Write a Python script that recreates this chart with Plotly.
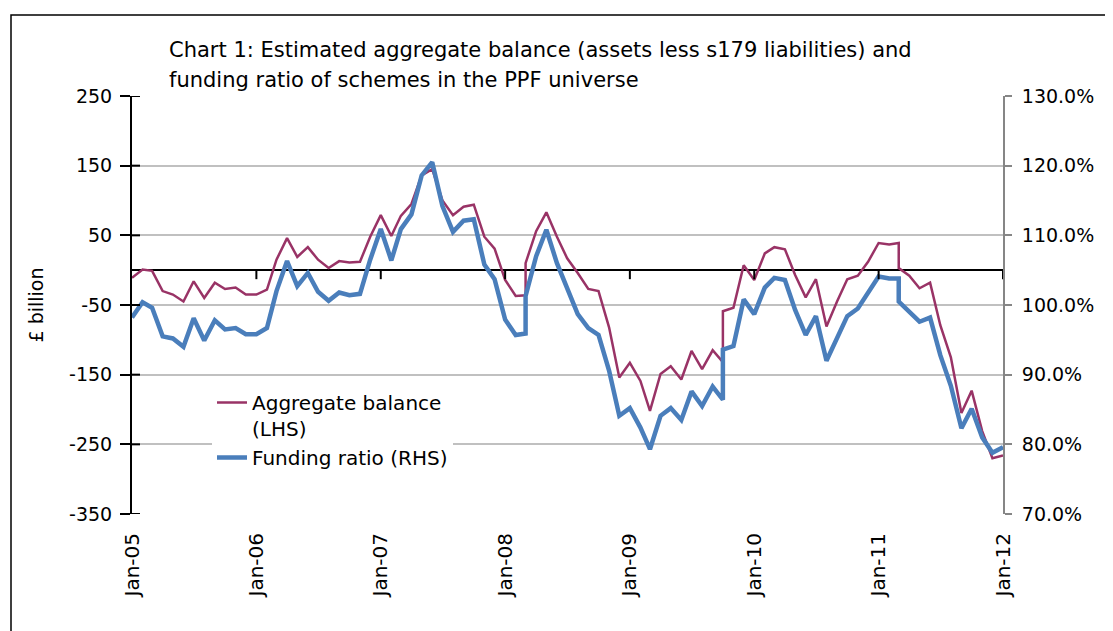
import plotly.graph_objects as go

# ---------------- data ----------------
months = [f"{y}-{m:02d}-01" for y in range(2005, 2012) for m in range(1, 13)] + ["2012-01-01"]

# Aggregate balance, £ billion (LHS) - one value per month Jan-05 .. Jan-12
balance = [
    -11, 1, -1, -30, -35, -45, -16, -40, -18, -27, -25, -35,          # 2005
    -35, -28, 15, 46, 19, 33, 15, 3, 13, 11, 12, 48,                  # 2006
    79, 49, 78, 95, 136, 145, 100, 79, 91, 94, 48, 31,                # 2007
    -14, -37, -36, 56, 83, 48, 17, -4, -27, -30, -82, -154,           # 2008
    -133, -159, -202, -149, -138, -157, -116, -142, -115, -132, -54, 7,  # 2009
    -14, 24, 33, 30, -7, -39, -13, -81, -45, -13, -8, 12,             # 2010
    39, 37, 39, -8, -26, -18, -79, -125, -205, -173, -231, -270,      # 2011
    -266,                                                             # Jan-12
]

# Funding ratio, % (RHS)
funding_ratio = [
    98.2, 100.4, 99.6, 95.5, 95.2, 94.0, 98.1, 94.9, 97.8, 96.5, 96.7, 95.8,
    95.8, 96.7, 102.0, 106.3, 102.7, 104.6, 101.9, 100.6, 101.8, 101.4, 101.6, 106.5,
    110.9, 106.4, 110.9, 113.0, 118.6, 120.5, 114.2, 110.5, 112.1, 112.3, 105.8, 103.7,
    97.9, 95.7, 95.9, 107.0, 110.8, 106.0, 102.3, 98.7, 96.7, 95.7, 90.6, 84.1,
    85.2, 82.4, 79.3, 84.1, 85.2, 83.5, 87.6, 85.5, 88.3, 86.4, 94.1, 100.8,
    98.7, 102.5, 103.9, 103.6, 99.3, 95.7, 98.4, 92.0, 95.4, 98.4, 99.5, 101.7,
    104.1, 103.8, 103.8, 99.0, 97.6, 98.2, 92.8, 88.4, 82.3, 85.1, 81.0, 78.8,
    79.6,
]

# Months where the basis changes (second value at the same date)
basis_change_months = ["2008-03-01", "2009-10-01", "2011-03-01"]
balance_new_basis = [10, -59, 3]
ratio_new_basis = [101.3, 93.6, 100.5]

year_ticks = [f"{y}-01-01" for y in range(2005, 2013)]
year_labels = ["Jan-05", "Jan-06", "Jan-07", "Jan-08", "Jan-09", "Jan-10", "Jan-11", "Jan-12"]

left_ticks = [-350, -250, -150, -50, 50, 150, 250]
right_ticks = [70, 80, 90, 100, 110, 120, 130]

title_lines = [
    "Chart 1: Estimated aggregate balance (assets less s179 liabilities) and",
    "funding ratio of schemes in the PPF universe",
]

# ---------------- build series with basis breaks ----------------
x, yb, yr = [], [], []
for m, b, r in zip(months, balance, funding_ratio):
    x.append(m); yb.append(b); yr.append(r)
    if m in basis_change_months:
        i = basis_change_months.index(m)
        x.append(m); yb.append(balance_new_basis[i]); yr.append(ratio_new_basis[i])

FONT = "DejaVu Sans"
PURPLE = "#993366"
BLUE = "#4A7EBB"

# plot area on screen (page has an 8px body margin)
PL, PR, PT, PB = 132, 1003, 96, 514
PW, PH = PR - PL, PB - PT

def px(xpix):
    return (xpix - PL) / PW

def py(ypix):
    return (PB - ypix) / PH

fig = go.Figure()
fig.add_trace(go.Scatter(x=x, y=yb, mode="lines", name="Aggregate balance<br>(LHS)",
                         line=dict(color=PURPLE, width=2.5), yaxis="y"))
fig.add_trace(go.Scatter(x=x, y=yr, mode="lines", name="Funding ratio (RHS)",
                         line=dict(color=BLUE, width=4.5), yaxis="y2"))

shapes = []
# year tick marks on the zero line (category axis crosses at 0)
for t in year_ticks[1:]:
    shapes.append(dict(type="line", xref="x", yref="y", x0=t, x1=t,
                       ysizemode="pixel", yanchor=0, y0=0, y1=-9,
                       line=dict(color="black", width=2)))
# inner half of the crossing ticks on the left value axis
for v in left_ticks:
    shapes.append(dict(type="line", xref="paper", yref="y", y0=v, y1=v,
                       xsizemode="pixel", xanchor=0, x0=0, x1=8,
                       line=dict(color="black", width=2)))
# outer chart border
shapes.append(dict(type="rect", xref="paper", yref="paper",
                   x0=px(11), x1=px(1130), y0=py(650), y1=py(15),
                   line=dict(color="black", width=1.5), fillcolor="rgba(0,0,0,0)", layer="below"))

annotations = [
    dict(text=title_lines[0], xref="paper", yref="paper", x=px(167), y=py(50),
         xanchor="left", yanchor="middle", showarrow=False, font=dict(family=FONT, size=21, color="black")),
    dict(text=title_lines[1], xref="paper", yref="paper", x=px(167), y=py(80),
         xanchor="left", yanchor="middle", showarrow=False, font=dict(family=FONT, size=21, color="black")),
]

fig.update_layout(
    width=1113, height=631, autosize=False,
    margin=dict(l=PL - 8, r=1113 + 8 - PR, t=PT - 8, b=631 + 8 - PB),
    paper_bgcolor="white", plot_bgcolor="white",
    font=dict(family=FONT, size=19, color="black"),
    showlegend=True,
    legend=dict(x=px(212), y=py(383), xanchor="left", yanchor="top",
                bgcolor="white", borderwidth=0, font=dict(family=FONT, size=20, color="black"),
                valign="top", tracegroupgap=0),
    xaxis=dict(type="date", range=["2005-01-01", "2012-01-01"],
               tickmode="array", tickvals=year_ticks, ticktext=year_labels,
               tickangle=-90, ticks="", showgrid=False, showline=False, zeroline=False,
               ticklabelstandoff=14, tickfont=dict(family=FONT, size=20)),
    yaxis=dict(range=[-350, 250], tickmode="array", tickvals=left_ticks,
               ticktext=[str(v) for v in left_ticks],
               showgrid=True, gridcolor="#C0C0C0", gridwidth=1.5,
               zeroline=True, zerolinecolor="black", zerolinewidth=2,
               showline=True, linecolor="black", linewidth=2,
               ticks="outside", ticklen=10, tickwidth=2, tickcolor="black",
               ticklabelstandoff=4,
               title=dict(text="£ billion", standoff=20, font=dict(family=FONT, size=19)),
               tickfont=dict(family=FONT, size=19)),
    yaxis2=dict(range=[70, 130], overlaying="y", side="right", tickmode="array",
                tickvals=right_ticks, ticktext=[f"{v:.1f}%" for v in right_ticks],
                showgrid=False, zeroline=False,
                showline=True, linecolor="#868686", linewidth=2,
                ticks="outside", ticklen=7, tickwidth=2, tickcolor="#868686",
                ticklabelstandoff=6,
                tickfont=dict(family=FONT, size=19)),
    shapes=shapes,
    annotations=annotations,
)

fig.write_html("out.html")
